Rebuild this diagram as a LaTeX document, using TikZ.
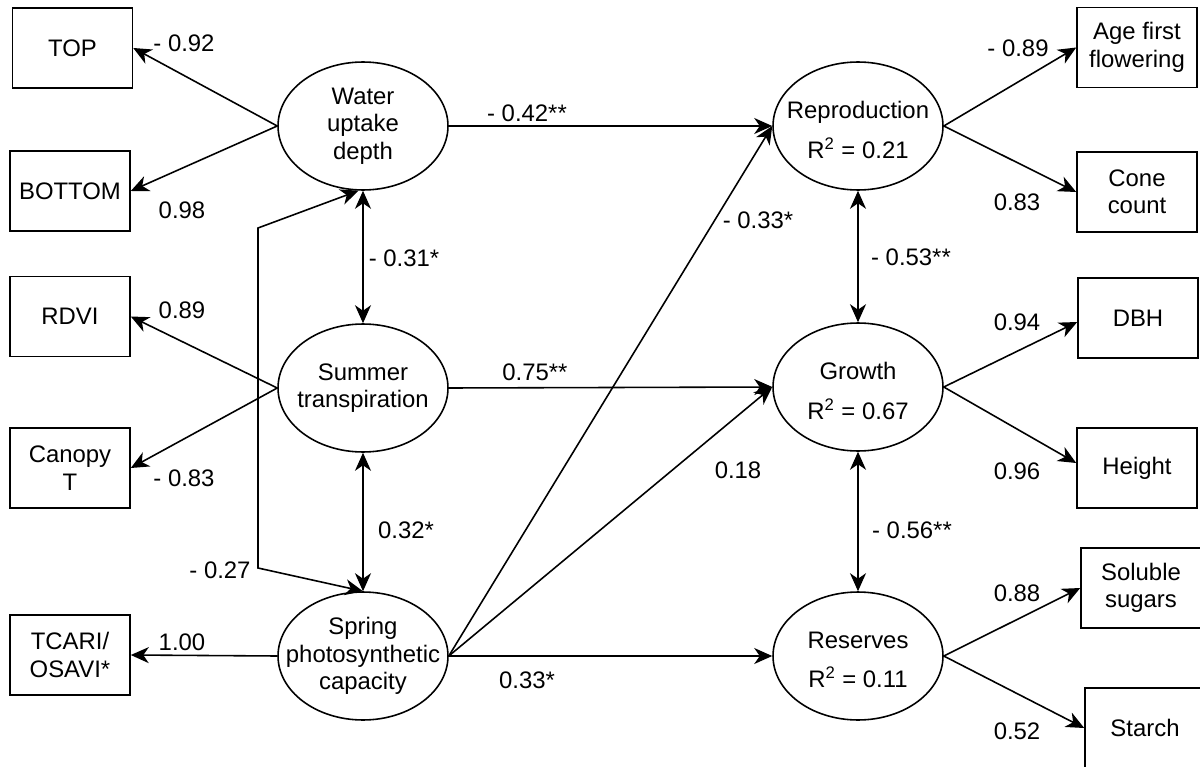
\documentclass[tikz,border=0pt]{standalone}
\usepackage{fontspec}
\setmainfont{Liberation Sans}
\usetikzlibrary{shapes.geometric,arrows.meta}
\begin{document}
\begin{tikzpicture}[x=0.02cm,y=-0.02cm,
  font=\fontsize{13.6}{15.6}\selectfont,
  latent/.style={ellipse, draw, line width=0.9pt, minimum width=3.4cm, minimum height=2.56cm, inner sep=0pt},
  obs/.style={rectangle, draw, line width=0.9pt, minimum width=2.4cm, minimum height=1.6cm, align=center, inner sep=0pt},
  conn/.style={line width=0.9pt, -{Stealth[length=0.36cm,width=0.32cm,inset=0.11cm]}},
  dconn/.style={line width=0.9pt, {Stealth[length=0.36cm,width=0.32cm,inset=0.11cm]}-{Stealth[length=0.36cm,width=0.32cm,inset=0.11cm]}},
  coef/.style={inner sep=0pt}
]
\useasboundingbox (0,0) rectangle (1200,767);

% latent variables
\node[latent, label={[align=center]center:Water\\uptake\\depth}] (water) at (363,126) {};
\node[latent, label={[align=center]center:Summer\\transpiration}] (summer) at (363,388) {};
\node[latent, label={[align=center]center:Spring\\photosynthetic\\capacity}] (spring) at (363,656) {};
\node[latent, label={[align=center,yshift=-0.08cm]center:Reproduction\\[7pt]R\textsuperscript{2} = 0.21}] (repro) at (858,126) {};
\node[latent, label={[align=center,yshift=-0.08cm]center:Growth\\[7pt]R\textsuperscript{2} = 0.67}] (growth) at (858,387) {};
\node[latent, label={[align=center,yshift=-0.08cm]center:Reserves\\[7pt]R\textsuperscript{2} = 0.11}] (reserves) at (858,656) {};

% observed variables
\node[obs] (top) at (72.5,48) {TOP};
\node[obs] (bottom) at (70,191) {BOTTOM};
\node[obs] (rdvi) at (70,316.5) {RDVI};
\node[obs] (canopy) at (70,468) {Canopy\\T};
\node[obs] (tcari) at (70,655) {TCARI/\\OSAVI*};
\node[obs] (age) at (1137,47.5) {Age first\\flowering};
\node[obs] (cone) at (1137,192) {Cone\\count};
\node[obs] (dbh) at (1138,318) {DBH};
\node[obs] (height) at (1137,468) {Height};
\node[obs] (sugars) at (1141,588) {Soluble\\sugars};
\node[obs] (starch) at (1145,728) {Starch};

% measurement arrows
\draw[conn] (water.west) -- (top.east);
\draw[conn] (water.west) -- (bottom.east);
\draw[conn] (summer.west) -- (rdvi.east);
\draw[conn] (summer.west) -- (canopy.east);
\draw[conn] (spring.west) -- (tcari.east);
\draw[conn] (repro.east) -- (age.west);
\draw[conn] (repro.east) -- (cone.west);
\draw[conn] (growth.east) -- ([yshift=-0.08cm]dbh.west);
\draw[conn] (growth.east) -- ([yshift=0.1cm]height.west);
\draw[conn] (reserves.east) -- (sugars.west);
\draw[conn] (reserves.east) -- (starch.west);

% structural paths
\draw[conn] (water.east) -- (repro.west);
\draw[conn] (summer.east) -- (growth.west);
\draw[conn] (spring.east) -- (reserves.west);
\draw[conn] (spring.east) -- (repro.west);
\draw[conn] (spring.east) -- (growth.west);

% correlations
\draw[dconn] (water.south) -- (summer.north);
\draw[dconn] (summer.south) -- (spring.north);
\draw[dconn] (repro.south) -- (growth.north);
\draw[dconn] (growth.south) -- (reserves.north);
\coordinate (c1) at (258,228);
\coordinate (c2) at (258,568);
\draw[dconn] (water.-94) -- (c1) -- (c2) -- (spring.north);

% coefficients
\node[coef] (l1) at (184,43) {- 0.92};
\node[coef] (l2) at (182,210) {0.98};
\node[coef] (l3) at (404,258) {- 0.31*};
\node[coef] (l4) at (182,310) {0.89};
\node[coef] (l5) at (184,478) {- 0.83};
\node[coef] (l6) at (406,530) {0.32*};
\node[coef] (l7) at (220,570) {- 0.27};
\node[coef] (l8) at (182,642) {1.00};
\node[coef] (l9) at (527,113) {- 0.42**};
\node[coef] (l10) at (535,372) {0.75**};
\node[coef] (l11) at (758,220) {- 0.33*};
\node[coef] (l12) at (738,470) {0.18};
\node[coef] (l13) at (527,680) {0.33*};
\node[coef] (l14) at (911,257) {- 0.53**};
\node[coef] (l15) at (912,530) {- 0.56**};
\node[coef] (l16) at (1018,48) {- 0.89};
\node[coef] (l17) at (1017,202) {0.83};
\node[coef] (l18) at (1017,322) {0.94};
\node[coef] (l19) at (1017,471) {0.96};
\node[coef] (l20) at (1017,593) {0.88};
\node[coef] (l21) at (1017,731) {0.52};
\end{tikzpicture}
\end{document}
